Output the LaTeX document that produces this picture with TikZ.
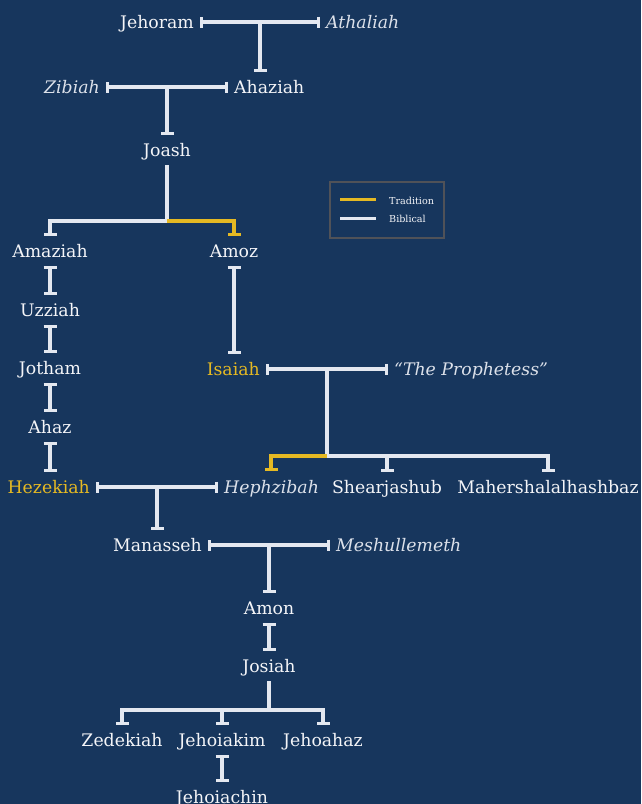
\documentclass[tikz,border=0pt]{standalone}
\usepackage{fontspec}
\setmainfont{DejaVu Serif}
\usetikzlibrary{arrows.meta,calc}
\definecolor{bg}{RGB}{23,54,93}
\definecolor{linec}{RGB}{228,232,240}
\definecolor{gold}{RGB}{229,185,35}
\definecolor{txt}{RGB}{244,245,248}
\definecolor{txti}{RGB}{220,225,234}
\definecolor{legb}{RGB}{80,82,88}
\begin{document}
\begin{tikzpicture}[x=1pt,y=-1pt,
  nm/.style={text=txt, font=\fontsize{17.3}{20}\selectfont, text height=14.5pt, text depth=2.5pt, inner ysep=6.5pt, inner xsep=6pt},
  wf/.style={nm, font=\fontsize{17.3}{20}\selectfont\itshape, text=txti},
  yn/.style={nm, text=gold},
  bl/.style={draw=linec, line width=3.2pt},
  yl/.style={draw=gold, line width=3.2pt},
  br/.style={{Bar[width=11pt]}-{Bar[width=11pt]}},
  tk/.style={-{Bar[width=13pt]}},
  ib/.style={{Bar[width=13pt]}-{Bar[width=13pt]}},
  legt/.style={text=txt, font=\fontsize{9.6}{11}\selectfont, anchor=west, inner sep=0pt}
]
\fill[bg] (0,0) rectangle (641,804);
\useasboundingbox (0,0) rectangle (641,804);

% nodes
\node[nm, anchor=east] (jehoram) at (200,22) {Jehoram};
\node[wf, anchor=west] (athaliah) at (320,22) {Athaliah};
\node[wf, anchor=east] (zibiah) at (106,87) {Zibiah};
\node[nm, anchor=west] (ahaziah) at (228,87) {Ahaziah};
\node[nm] (joash) at (167,150) {Joash};
\node[nm] (amaziah) at (50,251) {Amaziah};
\node[nm] (amoz) at (234,251) {Amoz};
\node[nm] (uzziah) at (50,310) {Uzziah};
\node[nm] (jotham) at (50,368) {Jotham};
\node[nm] (ahaz) at (50,427) {Ahaz};
\node[yn, anchor=east] (hezekiah) at (96,487) {Hezekiah};
\node[yn, anchor=east] (isaiah) at (266,369) {Isaiah};
\node[wf, anchor=west] (proph) at (388,369) {“The Prophetess”};
\node[wf, anchor=west] (hephzibah) at (218,487) {Hephzibah};
\node[nm] (shear) at (387,487) {Shearjashub};
\node[nm] (maher) at (548,487) {Mahershalalhashbaz};
\node[nm, anchor=east] (manasseh) at (208,545) {Manasseh};
\node[wf, anchor=west] (meshul) at (330,545) {Meshullemeth};
\node[nm] (amon) at (269,608) {Amon};
\node[nm] (josiah) at (269,666) {Josiah};
\node[nm] (zedekiah) at (122,740) {Zedekiah};
\node[nm] (jehoiakim) at (222,740) {Jehoiakim};
\node[nm] (jehoahaz) at (323,740) {Jehoahaz};
\node[nm] (jehoiachin) at (222,797) {Jehoiachin};

% junction coordinates
\coordinate (m1) at ($(jehoram.east)!.5!(athaliah.west)$);
\coordinate (m2) at ($(zibiah.east)!.5!(ahaziah.west)$);
\coordinate (m3) at ($(isaiah.east)!.5!(proph.west)$);
\coordinate (m4) at ($(hezekiah.east)!.5!(hephzibah.west)$);
\coordinate (m5) at ($(manasseh.east)!.5!(meshul.west)$);
\coordinate (j1) at (167,221);
\coordinate (j2) at (327,456);
\coordinate (j3) at (269,710);
\coordinate (hk) at (271,471);

% couples
\draw[bl, br] (jehoram.east) -- (athaliah.west);
\draw[bl, br] (zibiah.east) -- (ahaziah.west);
\draw[bl, br] (isaiah.east) -- (proph.west);
\draw[bl, br] (hezekiah.east) -- (hephzibah.west);
\draw[bl, br] (manasseh.east) -- (meshul.west);

% descent
\draw[bl, tk] (m1) -- (m1 |- ahaziah.north);
\draw[bl, tk] (m2) -- (m2 |- joash.north);
\draw[bl] (joash.south) -- (j1);
\draw[bl, tk] (j1) -| (amaziah.north);
\draw[yl, tk] (j1) -| (amoz.north);
\draw[bl, ib] (amaziah.south) -- (uzziah.north);
\draw[bl, ib] (uzziah.south) -- (jotham.north);
\draw[bl, ib] (jotham.south) -- (ahaz.north);
\draw[bl, ib] (ahaz.south) -- (ahaz.south |- hezekiah.north);
\draw[bl, ib] (amoz.south) -- (amoz.south |- isaiah.north);
\draw[bl] (m3) -- (j2);
\draw[yl, tk] (j2) -| (hk);
\draw[bl, tk] (j2) -| (shear.north);
\draw[bl, tk] (j2) -| (maher.north);
\draw[bl, tk] (m4) -- (m4 |- manasseh.north);
\draw[bl, tk] (m5) -- (m5 |- amon.north);
\draw[bl, ib] (amon.south) -- (josiah.north);
\draw[bl] (josiah.south) -- (j3);
\draw[bl, tk] (j3) -| (zedekiah.north);
\draw[bl, tk] (j3) -| (jehoiakim.north);
\draw[bl, tk] (j3) -| (jehoahaz.north);
\draw[bl, ib] (jehoiakim.south) -- (jehoiachin.north);

% legend
\node[draw=legb, line width=1.8pt, minimum width=114pt, minimum height=56pt, inner sep=0pt] (legend) at (387,210) {};
\node[legt] (lt) at (389,201) {Tradition};
\node[legt] (lb) at (389,219) {Biblical};
\draw[gold, line width=3pt] (340,199.5) -- (376,199.5);
\draw[linec, line width=3pt] (340,218) -- (376,218);
\end{tikzpicture}
\end{document}
